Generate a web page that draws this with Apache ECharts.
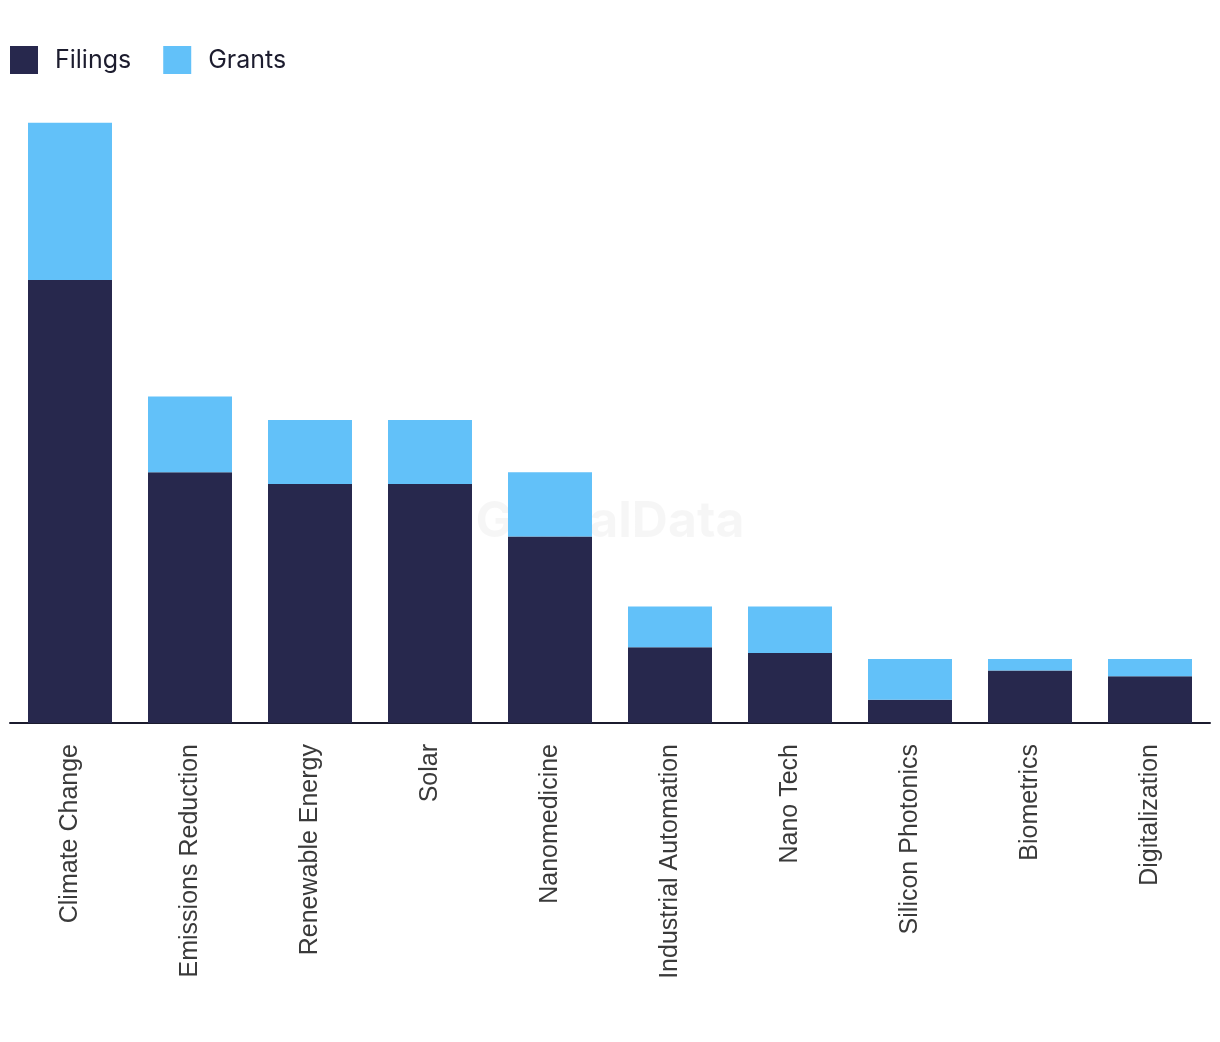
<!DOCTYPE html>
<html>
<head>
<meta charset="utf-8">
<script src="https://cdn.jsdelivr.net/npm/echarts@6/dist/echarts.min.js"></script>
<style>html,body{margin:0;padding:0;background:#fff;}#c{width:1220px;height:1042px;}</style>
</head>
<body>
<div id="c"></div>
<script>
const categories = ["Climate Change","Emissions Reduction","Renewable Energy","Solar","Nanomedicine","Industrial Automation","Nano Tech","Silicon Photonics","Biometrics","Digitalization"];
const filings = [76,43,41,41,32,13,12,4,9,8];
const grants = [27,13,11,11,11,7,8,7,2,3];

const chart = echarts.init(document.getElementById('c'));
chart.setOption({
  animation: false,
  legend: {
    left: 10, top: 46, padding: 0, itemWidth: 28, itemHeight: 28, itemGap: 32,
    icon: 'rect',
    textStyle: { fontSize: 25, color: '#1c1c2e', fontFamily: 'Inter, sans-serif', padding: [0,0,0,12] },
    data: ['Filings','Grants']
  },
  graphic: [{
    type: 'text', left: 'center', top: 497,
    style: { text: 'GlobalData', fontSize: 50, fontWeight: 'bold', fill: 'rgba(0,0,0,0.035)', fontFamily: 'Inter, sans-serif' }
  }],
  grid: { left: 10, right: 10, top: 111, bottom: 319, containLabel: false },
  xAxis: {
    type: 'category', data: categories,
    axisLine: { lineStyle: { color: '#1b1b2e', width: 2 } },
    axisTick: { show: false },
    axisLabel: { rotate: 90, fontSize: 25, color: '#3a3a3a', margin: 21, fontFamily: 'Liberation Sans, Arial, sans-serif', interval: 0 }
  },
  yAxis: { type: 'value', min: 0, max: 105, show: false, splitLine: { show: false } },
  series: [
    { name: 'Filings', type: 'bar', stack: 's', data: filings, barWidth: 84, itemStyle: { color: '#27284d' } },
    { name: 'Grants', type: 'bar', stack: 's', data: grants, barWidth: 84, itemStyle: { color: '#62c1f9' } }
  ]
});
</script>
</body>
</html>
